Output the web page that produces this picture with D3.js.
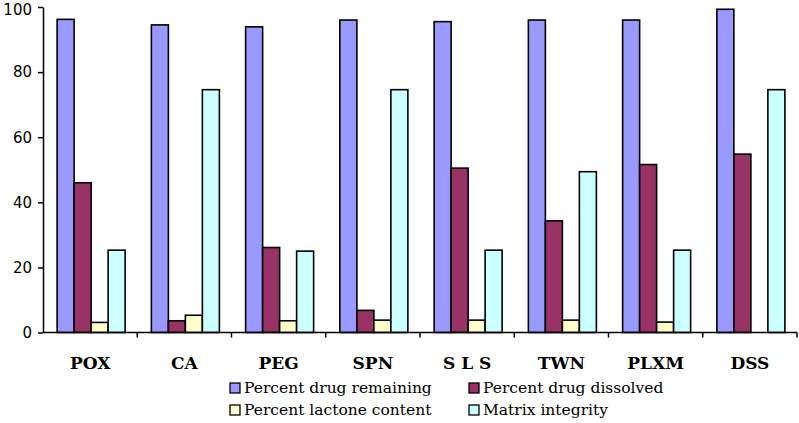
<!DOCTYPE html>
<html><head><meta charset="utf-8">
<script src="https://cdn.jsdelivr.net/npm/d3@7"></script>
<style>body{margin:0;background:#fff}svg{display:block}</style>
</head><body>
<svg id="c" width="799" height="423"></svg>
<script>
const categories = ["POX","CA","PEG","SPN","S L S","TWN","PLXM","DSS"];
const seriesNames = ["Percent drug remaining","Percent drug dissolved","Percent lactone content","Matrix integrity"];
const drugRemaining = [96.2, 94.5, 93.9, 96.0, 95.5, 96.0, 96.0, 99.3];
const drugDissolved = [46.0, 3.6, 26.1, 6.8, 50.5, 34.3, 51.6, 54.8];
const lactoneContent = [3.1, 5.3, 3.6, 3.8, 3.8, 3.8, 3.2, 0];
const matrixIntegrity = [25.3, 74.6, 25.0, 74.6, 25.3, 49.4, 25.3, 74.6];
const yTicks = [0,20,40,60,80,100];
const colors = ["#9999ff","#993366","#ffffcc","#ccffff"];
const series = [drugRemaining, drugDissolved, lactoneContent, matrixIntegrity];

const svg = d3.select("#c");
const x0 = d3.scaleBand().domain(categories).range([43, 797]).paddingInner(0).paddingOuter(0);
const y = d3.scaleLinear().domain([0,100]).range([332.5, 7]);
const barW = 17;
const groupW = barW*4;
const x1 = d3.scaleBand().domain(d3.range(4)).range([0, groupW]).padding(0);

const g = svg.append("g");
categories.forEach((c,i)=>{
  const gx = x0(c) + (x0.bandwidth()-groupW)/2 + 1;
  series.forEach((s,k)=>{
    const v = s[i];
    if (v<=0) return;
    g.append("rect")
      .attr("x", gx + x1(k))
      .attr("y", y(v))
      .attr("width", x1.bandwidth())
      .attr("height", y(0)-y(v))
      .attr("fill", colors[k])
      .attr("stroke", "#000")
      .attr("stroke-width", 1.6);
  });
});

// Y axis
const ya = svg.append("g").attr("transform","translate(43,0)")
  .call(d3.axisLeft(y).tickValues(yTicks).tickSize(5).tickSizeOuter(0).tickPadding(6));
ya.select(".domain").attr("stroke","#000").attr("stroke-width",1.5);
ya.selectAll(".tick line").attr("stroke","#000").attr("stroke-width",1.5);
ya.selectAll(".tick text").attr("font-family","'DejaVu Sans', Verdana, sans-serif").attr("font-size",15).attr("fill","#000")
  .attr("y", d => d === 100 ? 2.5 : 0);

// X axis
const xa = svg.append("g").attr("transform","translate(0,332.5)")
  .call(d3.axisBottom(x0).tickSize(0).tickPadding(0));
xa.select(".domain").remove();
xa.append("line").attr("x1",43).attr("x2",797).attr("y1",0).attr("y2",0).attr("stroke","#000").attr("stroke-width",1.5);
const bounds = categories.map(c=>x0(c)).concat([x0(categories[categories.length-1])+x0.bandwidth()]);
xa.selectAll(".btick").data(bounds.slice(1)).enter().append("line")
  .attr("x1",d=>d).attr("x2",d=>d).attr("y1",0).attr("y2",5).attr("stroke","#000").attr("stroke-width",1.5);
xa.selectAll(".tick text").attr("y",36).attr("dy",0)
  .attr("font-family","'DejaVu Serif', serif").attr("font-weight","bold")
  .attr("font-size",17).attr("fill","#000");

// Legend
const legendPos = [[230,388],[469,388],[230,410],[469,410]];
seriesNames.forEach((n,k)=>{
  const [lx,ly] = legendPos[k];
  svg.append("rect").attr("x",lx).attr("y",ly-5).attr("width",10).attr("height",10)
    .attr("fill",colors[k]).attr("stroke","#000").attr("stroke-width",1.3);
  svg.append("text").attr("x",lx+14).attr("y",ly).attr("dy","0.35em")
    .attr("font-family","'DejaVu Serif', serif").attr("font-size",15.5)
    .attr("fill","#000").text(n);
});
</script>
</body></html>
